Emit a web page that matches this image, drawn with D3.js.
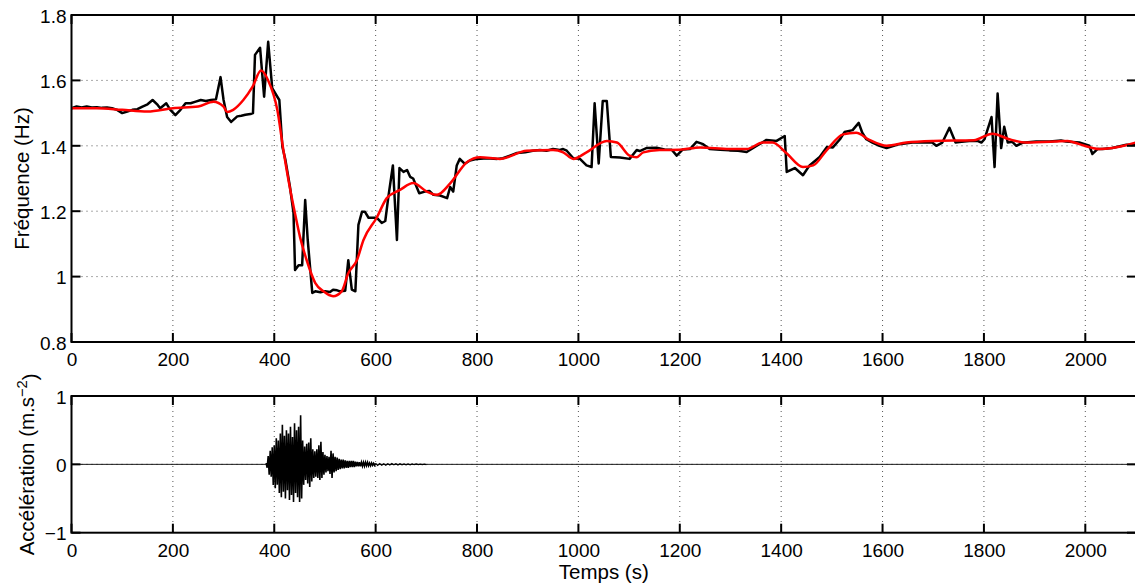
<!DOCTYPE html>
<html>
<head>
<meta charset="utf-8">
<script src="https://cdn.jsdelivr.net/npm/d3@7"></script>
<style>
  html, body { margin: 0; padding: 0; background: #fff; }
  svg { display: block; font-family: "Liberation Sans", Arial, Helvetica, sans-serif; }
</style>
</head>
<body>
<svg id="chart" width="1135" height="586"></svg>
<script>
// ---------------- DATA ----------------
const xTicks = [0, 200, 400, 600, 800, 1000, 1200, 1400, 1600, 1800, 2000];
const freqTicks = [0.8, 1, 1.2, 1.4, 1.6, 1.8];
const accTicks = [-1, 0, 1];

// Raw identified frequency (black line)
const freqT = [0,10,20,30,40,50,60,70,80,90,100,110,120,130,140,150,160,170,175,187,195,205,215,225,235,245,255,265,275,285,294,300,307,315,327,335,343,353,358,362,372,380,388,396,406,410,416,422,431,438,441,448,455,461,466,475,481,491,500,510,516,524,530,540,546,553,560,566,573,579,586,602,612,619,625,634,642,647,655,662,668,674,686,697,706,714,727,741,747,753,760,766,776,786,800,820,840,851,865,879,895,910,924,937,950,963,970,977,990,1003,1016,1026,1032,1040,1048,1056,1064,1082,1101,1115,1121,1134,1154,1170,1184,1194,1206,1220,1233,1246,1259,1280,1298,1315,1332,1352,1371,1391,1407,1411,1427,1443,1456,1476,1490,1502,1516,1525,1541,1553,1560,1568,1580,1594,1608,1633,1659,1680,1698,1706,1718,1732,1744,1756,1771,1787,1795,1801,1815,1821,1827,1834,1840,1847,1856,1864,1876,1903,1930,1952,1962,1988,2008,2014,2024,2034,2053,2081,2100];
const freqRaw = [1.515,1.52,1.517,1.52,1.517,1.518,1.516,1.517,1.515,1.51,1.50,1.505,1.51,1.512,1.52,1.527,1.54,1.525,1.515,1.53,1.51,1.494,1.51,1.53,1.53,1.535,1.54,1.537,1.54,1.542,1.61,1.54,1.488,1.473,1.49,1.492,1.495,1.497,1.50,1.678,1.70,1.55,1.718,1.576,1.55,1.54,1.397,1.357,1.274,1.194,1.02,1.035,1.035,1.234,1.112,0.95,0.955,0.952,0.955,0.953,0.96,0.958,0.955,0.957,1.05,0.96,0.955,1.158,1.198,1.198,1.18,1.18,1.164,1.17,1.243,1.34,1.112,1.332,1.32,1.326,1.305,1.30,1.255,1.26,1.262,1.25,1.248,1.24,1.274,1.26,1.34,1.36,1.345,1.355,1.36,1.362,1.36,1.362,1.37,1.378,1.38,1.385,1.387,1.385,1.39,1.387,1.39,1.385,1.362,1.36,1.34,1.335,1.53,1.346,1.537,1.537,1.366,1.364,1.36,1.387,1.384,1.393,1.394,1.389,1.388,1.37,1.389,1.39,1.412,1.405,1.39,1.388,1.386,1.385,1.381,1.40,1.418,1.415,1.43,1.32,1.332,1.31,1.34,1.366,1.396,1.395,1.42,1.442,1.448,1.47,1.44,1.42,1.41,1.40,1.393,1.405,1.41,1.41,1.41,1.40,1.41,1.455,1.41,1.412,1.415,1.415,1.41,1.42,1.488,1.335,1.56,1.393,1.458,1.41,1.412,1.40,1.409,1.413,1.413,1.416,1.413,1.41,1.40,1.375,1.39,1.39,1.393,1.403,1.403];

// Smoothed frequency (red line)
const smoothT = [0,50,100,150,200,250,280,300,307,319,339,357,374,388,406,418,428,440,451,464,481,497,516,533,546,563,576,602,622,648,674,701,721,747,780,806,845,898,950,970,990,1016,1056,1076,1101,1115,1128,1160,1200,1240,1298,1332,1364,1383,1410,1443,1463,1490,1522,1548,1574,1608,1647,1700,1780,1817,1850,1884,1940,1965,1988,2028,2053,2100];
const smoothV = [1.515,1.515,1.51,1.505,1.515,1.52,1.535,1.52,1.503,1.51,1.54,1.58,1.63,1.60,1.51,1.387,1.295,1.20,1.12,1.05,0.98,0.955,0.94,0.955,1.01,1.05,1.112,1.18,1.24,1.265,1.286,1.26,1.25,1.285,1.35,1.365,1.36,1.385,1.387,1.38,1.36,1.38,1.415,1.41,1.37,1.365,1.38,1.387,1.388,1.395,1.39,1.39,1.41,1.41,1.378,1.335,1.34,1.387,1.435,1.44,1.418,1.40,1.41,1.415,1.417,1.437,1.42,1.41,1.413,1.415,1.405,1.39,1.393,1.41];

// Acceleration: burst sampled every 2 s from 384 s, tail every 4 s from 604 s
const burstStart = 384, burstStep = 2;
const burstVals = [0.02,-0.05,0.12,-0.15,0.2,-0.18,0.25,-0.3,0.28,-0.35,0.38,-0.3,0.35,-0.42,0.45,-0.48,0.58,-0.4,0.42,-0.5,0.5,-0.38,0.45,-0.52,0.55,-0.45,0.4,-0.55,0.6,-0.42,0.5,-0.48,0.55,-0.55,0.72,-0.5,0.35,-0.3,0.26,-0.23,0.3,-0.28,0.32,-0.33,0.38,-0.25,0.22,-0.2,0.19,-0.18,0.22,-0.2,0.28,-0.23,0.33,-0.2,0.18,-0.15,0.14,-0.12,0.12,-0.1,0.11,-0.14,0.2,-0.2,0.16,-0.12,0.11,-0.1,0.1,-0.08,0.08,-0.07,0.07,-0.06,0.07,-0.06,0.06,-0.05,0.05,-0.05,0.05,-0.04,0.05,-0.04,0.05,-0.04,0.04,-0.03,0.035,-0.03,0.03,-0.03,0.03,-0.025,0.03,-0.025,0.03,-0.02,0.03,-0.02,0.02,-0.02,0.02,-0.015,0.015,-0.015,0.015];
const tailStart = 604, tailStep = 4;
const tailVals = [-0.015,0.012,-0.012,0.01,-0.012,0.01,-0.01,0.012,-0.008,0.008,-0.01,0.008,-0.008,0.006,-0.008,0.006,-0.006,0.006,-0.005,0.005,-0.005,0.004,-0.004,0.004,-0.003];

// ---------------- LAYOUT ----------------
const svg = d3.select("#chart");
const left = 71.5, right = 1136;
const topP = { y0: 15, y1: 342 };
const botP = { y0: 396, y1: 532.7 };

const x = d3.scaleLinear().domain([0, 2100]).range([left, right]);
const yF = d3.scaleLinear().domain([0.8, 1.8]).range([topP.y1, topP.y0]);
const yA = d3.scaleLinear().domain([-1, 1]).range([botP.y1, botP.y0]);

const fmt = v => (v < 0 ? "\u2212" + Math.abs(v) : String(v));
const tickFont = 19, labelFont = 20.5;

function panel(y, p, yTicks, id) {
  const g = svg.append("g");
  svg.append("clipPath").attr("id", id).append("rect")
    .attr("x", left).attr("y", p.y0).attr("width", right - left).attr("height", p.y1 - p.y0);
  g.append("g").selectAll("line").data(xTicks.filter(d => d > 0)).join("line")
    .attr("x1", d => x(d)).attr("x2", d => x(d)).attr("y1", p.y0).attr("y2", p.y1)
    .attr("stroke", "#555").attr("stroke-width", 1).attr("stroke-dasharray", "1,4");
  g.append("g").selectAll("line").data(yTicks.slice(1, -1)).join("line")
    .attr("x1", left).attr("x2", right).attr("y1", d => y(d)).attr("y2", d => y(d))
    .attr("stroke", "#555").attr("stroke-width", 1).attr("stroke-dasharray", "1,4");
  return g;
}

function frame(y, p, yTicks) {
  const g = svg.append("g");
  const tl = 9;
  const axB = d3.axisBottom(x).tickValues(xTicks).tickSize(0).tickFormat(fmt);
  const gb = g.append("g").attr("transform", `translate(0,${p.y1})`).call(axB);
  gb.select(".domain").remove();
  gb.selectAll("text").attr("font-size", tickFont).attr("fill", "#000")
    .attr("font-family", "Liberation Sans, Arial, sans-serif").attr("y", 11).attr("dy", "0.71em");
  g.append("g").selectAll("line").data(xTicks).join("line")
    .attr("x1", d => x(d)).attr("x2", d => x(d)).attr("y1", p.y1).attr("y2", p.y1 - tl)
    .attr("stroke", "#000").attr("stroke-width", 2);
  g.append("g").selectAll("line").data(xTicks).join("line")
    .attr("x1", d => x(d)).attr("x2", d => x(d)).attr("y1", p.y0).attr("y2", p.y0 + tl)
    .attr("stroke", "#000").attr("stroke-width", 2);
  const axL = d3.axisLeft(y).tickValues(yTicks).tickSize(0).tickFormat(fmt);
  const gl = g.append("g").attr("transform", `translate(${left},0)`).call(axL);
  gl.select(".domain").remove();
  gl.selectAll("text").attr("font-size", tickFont).attr("fill", "#000")
    .attr("font-family", "Liberation Sans, Arial, sans-serif").attr("x", -5).attr("dy", "0.38em");
  g.append("g").selectAll("line").data(yTicks).join("line")
    .attr("x1", left).attr("x2", left + tl).attr("y1", d => y(d)).attr("y2", d => y(d))
    .attr("stroke", "#000").attr("stroke-width", 2);
  g.append("g").selectAll("line").data(yTicks).join("line")
    .attr("x1", right).attr("x2", right - tl).attr("y1", d => y(d)).attr("y2", d => y(d))
    .attr("stroke", "#000").attr("stroke-width", 2);
  g.append("rect").attr("x", left).attr("y", p.y0).attr("width", right - left).attr("height", p.y1 - p.y0)
    .attr("fill", "none").attr("stroke", "#000").attr("stroke-width", 2);
}

// ---------- top panel ----------
panel(yF, topP, freqTicks, "clipTop");
const rawData = freqT.map((t, i) => [t, freqRaw[i]]);
const smData = smoothT.map((t, i) => [t, smoothV[i]]);
svg.append("path").datum(rawData).attr("clip-path", "url(#clipTop)")
  .attr("d", d3.line().x(d => x(d[0])).y(d => yF(d[1])))
  .attr("fill", "none").attr("stroke", "#000").attr("stroke-width", 2.5).attr("stroke-linejoin", "round");
svg.append("path").datum(smData).attr("clip-path", "url(#clipTop)")
  .attr("d", d3.line().curve(d3.curveMonotoneX).x(d => x(d[0])).y(d => yF(d[1])))
  .attr("fill", "none").attr("stroke", "#ff0000").attr("stroke-width", 2.5).attr("stroke-linejoin", "round");
frame(yF, topP, freqTicks);

// ---------- bottom panel ----------
panel(yA, botP, accTicks, "clipBot");
const accLine = d3.line().x(d => x(d[0])).y(d => yA(d[1]));
// quiet baseline
svg.append("path").datum([[0, 0], [burstStart, 0]]).attr("clip-path", "url(#clipBot)")
  .attr("d", accLine).attr("fill", "none").attr("stroke", "#000").attr("stroke-width", 0.9);
svg.append("path").datum([[tailStart, 0], [2100, 0]]).attr("clip-path", "url(#clipBot)")
  .attr("d", accLine).attr("fill", "none").attr("stroke", "#000").attr("stroke-width", 0.9);
// burst
const burstData = burstVals.map((v, i) => [burstStart + i * burstStep, v]);
svg.append("path").datum(burstData).attr("clip-path", "url(#clipBot)")
  .attr("d", accLine).attr("fill", "none").attr("stroke", "#000").attr("stroke-width", 1.6);
// tail
const tailData = [[burstStart + (burstVals.length - 1) * burstStep, burstVals[burstVals.length - 1]]]
  .concat(tailVals.map((v, i) => [tailStart + i * tailStep, v]));
svg.append("path").datum(tailData).attr("clip-path", "url(#clipBot)")
  .attr("d", accLine).attr("fill", "none").attr("stroke", "#000").attr("stroke-width", 1.2);
frame(yA, botP, accTicks);

// ---------- labels ----------
svg.append("text").attr("transform", `translate(29,${(topP.y0 + topP.y1) / 2}) rotate(-90)`)
  .attr("text-anchor", "middle").attr("font-size", labelFont).text("Fréquence (Hz)");
const accLabel = svg.append("text").attr("transform", `translate(34,${(botP.y0 + botP.y1) / 2}) rotate(-90)`)
  .attr("text-anchor", "middle").attr("font-size", labelFont);
accLabel.append("tspan").text("Accélération (m.s");
accLabel.append("tspan").attr("dy", "-0.45em").attr("font-size", "0.72em").text("\u22122");
accLabel.append("tspan").attr("dy", "0.45em").text(")");
svg.append("text").attr("x", (left + right) / 2).attr("y", 579)
  .attr("text-anchor", "middle").attr("font-size", labelFont).text("Temps (s)");
</script>
</body>
</html>
